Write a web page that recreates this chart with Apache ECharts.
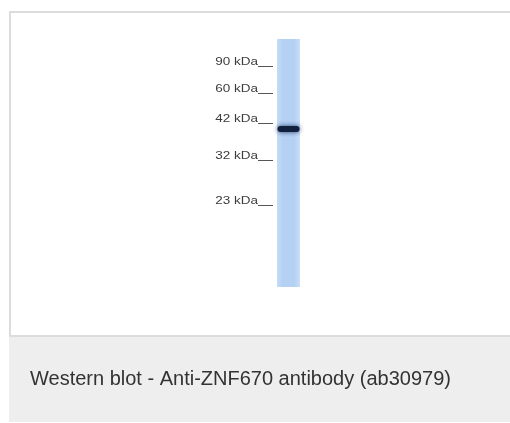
<!DOCTYPE html>
<html>
<head>
<meta charset="utf-8">
<script src="https://cdn.jsdelivr.net/npm/echarts@6/dist/echarts.min.js"></script>
<style>
html,body{margin:0;padding:0;background:#fff;}
#chart{width:510px;height:423px;}
</style>
</head>
<body>
<div id="chart"></div>
<script>
// ---- data ----
const laneNames = ['Lane 1'];
const laneLength = [248];                       // migration length of the lane
const markerLabels = ['90 kDa', '60 kDa', '42 kDa', '32 kDa', '23 kDa'];
const markerPositions = [23, 50, 80, 117, 162]; // migration distance of ladder markers
const bandPositions = [90];                     // detected band (~40 kDa)
const caption = 'Western blot - Anti-ZNF670 antibody (ab30979)';

const chart = echarts.init(document.getElementById('chart'), null, {renderer: 'canvas'});

const option = {
  animation: false,
  backgroundColor: '#ffffff',
  graphic: [
    {type: 'rect', z: -10, silent: true,
     shape: {x: 10, y: 12, width: 520, height: 324},
     style: {fill: '#ffffff', stroke: '#dcdcdc', lineWidth: 2}},
    {type: 'rect', z: -9, silent: true,
     shape: {x: 9, y: 337, width: 520, height: 85},
     style: {fill: '#edeeed'}},
    {type: 'text', z: 10, silent: true, x: 30, y: 389,
     style: {text: caption, fill: '#333333', font: '20px "Liberation Sans", Arial, sans-serif',
             textAlign: 'left', textVerticalAlign: 'bottom'}}
  ],
  grid: {left: 277, top: 39, width: 23, height: 248, show: false},
  xAxis: {type: 'category', data: laneNames, show: false},
  yAxis: {type: 'value', inverse: true, min: 0, max: 248, show: false},
  series: [
    {
      type: 'bar',
      z: 1,
      data: laneLength,
      barWidth: '100%',
      itemStyle: {
        color: new echarts.graphic.LinearGradient(0, 0, 1, 0, [
          {offset: 0, color: '#c4dcf8'},
          {offset: 0.25, color: '#b4d1f4'},
          {offset: 0.75, color: '#b4d1f4'},
          {offset: 1, color: '#c8def8'}
        ])
      },
      silent: true
    },
    {
      type: 'custom',
      z: 5,
      coordinateSystem: 'cartesian2d',
      data: bandPositions.map(v => [0, v]),
      clip: false,
      renderItem: function (params, api) {
        const p = api.coord([api.value(0), api.value(1)]);
        const w = api.size([1, 0])[0];
        return {
          type: 'rect',
          z2: 10,
          shape: {x: p[0] - w / 2 + 0.5, y: p[1] - 3, width: w - 1, height: 6, r: 3},
          style: {fill: '#10203d', shadowBlur: 5, shadowColor: 'rgba(25,45,90,0.9)'}
        };
      }
    },
    {
      type: 'custom',
      z: 5,
      coordinateSystem: 'cartesian2d',
      data: markerPositions.map((v, i) => [0, v, i]),
      clip: false,
      renderItem: function (params, api) {
        const p = api.coord([api.value(0), api.value(1)]);
        const w = api.size([1, 0])[0];
        const left = p[0] - w / 2;
        const label = markerLabels[api.value(2)];
        return {
          type: 'group',
          children: [
            {type: 'text', x: left - 19, y: p[1], scaleX: 1.35,
             style: {text: label, fill: '#3c3c3c', font: '10px "Liberation Sans", Arial, sans-serif',
                     textAlign: 'right', textVerticalAlign: 'middle'}},
            {type: 'line', shape: {x1: left - 19, y1: p[1] + 4.5, x2: left - 4, y2: p[1] + 4.5},
             style: {stroke: '#555555', lineWidth: 1}}
          ]
        };
      }
    }
  ]
};
chart.setOption(option);
</script>
</body>
</html>
